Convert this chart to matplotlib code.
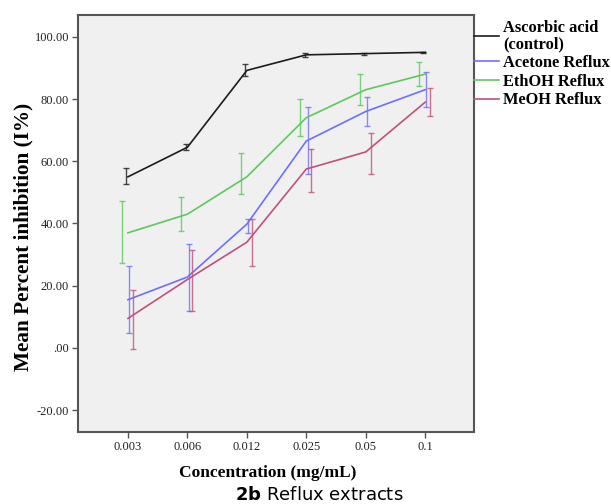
import numpy as np
import matplotlib
matplotlib.use("Agg")
import matplotlib.pyplot as plt

# data
conc_labels = ["0.003", "0.006", "0.012", "0.025", "0.05", "0.1"]
series_names = ["Ascorbic acid\n(control)", "Acetone Reflux", "EthOH Reflux", "MeOH Reflux"]

ascorbic = [55.0, 64.5, 89.2, 94.2, 94.6, 95.0]
ascorbic_lo = [52.8, 63.6, 87.5, 93.6, 94.3, 94.9]
ascorbic_hi = [57.8, 65.4, 91.2, 94.8, 94.9, 95.1]

acetone = [15.5, 22.8, 39.8, 66.5, 76.0, 83.0]
acetone_lo = [4.8, 12.0, 37.0, 56.0, 71.2, 77.5]
acetone_hi = [26.2, 33.5, 41.5, 77.5, 80.8, 88.8]

ethoh = [37.0, 43.0, 55.0, 74.0, 83.0, 88.0]
ethoh_lo = [27.2, 37.5, 49.5, 68.0, 78.2, 84.2]
ethoh_hi = [47.2, 48.5, 62.5, 80.0, 88.0, 91.8]

meoh = [9.5, 22.0, 34.0, 57.5, 63.0, 79.0]
meoh_lo = [-0.2, 12.0, 26.2, 50.0, 56.0, 74.5]
meoh_hi = [18.5, 31.5, 41.5, 63.8, 69.0, 83.5]

colors = ["#1c1c1c", "#6e6eff", "#5cc95c", "#c2507e"]
offsets = [-0.03, 0.02, -0.1, 0.08]

fig = plt.figure(figsize=(6.11, 5.04), dpi=100)
# frame from x=78..474, y=15..432 px
ax = fig.add_axes([78 / 611, 1 - 432 / 504, 396 / 611, 417 / 504])
ax.set_facecolor("#f0f0f0")

x = np.arange(len(conc_labels))
means = [ascorbic, acetone, ethoh, meoh]
lows = [ascorbic_lo, acetone_lo, ethoh_lo, meoh_lo]
highs = [ascorbic_hi, acetone_hi, ethoh_hi, meoh_hi]

for m, lo, hi, c, off, name in zip(means, lows, highs, colors, offsets, series_names):
    m = np.array(m)
    lo = np.array(lo)
    hi = np.array(hi)
    ax.plot(x, m, color=c, lw=1.2, label=name)
    ax.errorbar(x + off, (lo + hi) / 2, yerr=(hi - lo) / 2, fmt="none",
                ecolor=c, elinewidth=1.0, capsize=2, capthick=1.0, alpha=0.8)

ax.set_xlim(-0.84, 5.82)
ax.set_ylim(-27, 107)
ax.set_xticks(x)
ax.set_xticklabels(conc_labels)
yt = [-20, 0, 20, 40, 60, 80, 100]
ax.set_yticks(yt)
ax.set_yticklabels(["-20.00", ".00", "20.00", "40.00", "60.00", "80.00", "100.00"])

for sp in ax.spines.values():
    sp.set_color("#555555")
    sp.set_linewidth(1.5)
ax.tick_params(direction="out", length=4.5, width=1, color="#555555",
               labelsize=9, labelcolor="#222222", pad=2)
for lab in ax.get_xticklabels() + ax.get_yticklabels():
    lab.set_family("Liberation Serif")

ax.set_xlabel("Concentration (mg/mL)", family="Liberation Serif", weight="bold", fontsize=12.5)
ax.xaxis.set_label_coords(190 / 396, -41 / 417)
ax.xaxis.label.set_va("center")
ax.set_ylabel("Mean Percent inhibition (I%)", family="Liberation Serif", weight="bold", fontsize=15.3)
ax.yaxis.set_label_coords(-55 / 396, 195 / 417)
ax.yaxis.label.set_va("center")

leg = ax.legend(loc="upper left", bbox_to_anchor=(1.0, 0.988), frameon=False,
                borderaxespad=0, borderpad=0, handlelength=1.55, handletextpad=0.25,
                labelspacing=0.17,
                prop={"family": "Liberation Serif", "weight": "bold", "size": 11.8})
for t in leg.get_texts():
    t.set_linespacing(1.0)

fig.text(319 / 611, 1 - 495 / 504, r"$\mathbf{2b}$ Reflux extracts", fontsize=13,
         ha="center", va="center", family="DejaVu Sans")

fig.savefig("out.png", dpi=100, facecolor="white")
